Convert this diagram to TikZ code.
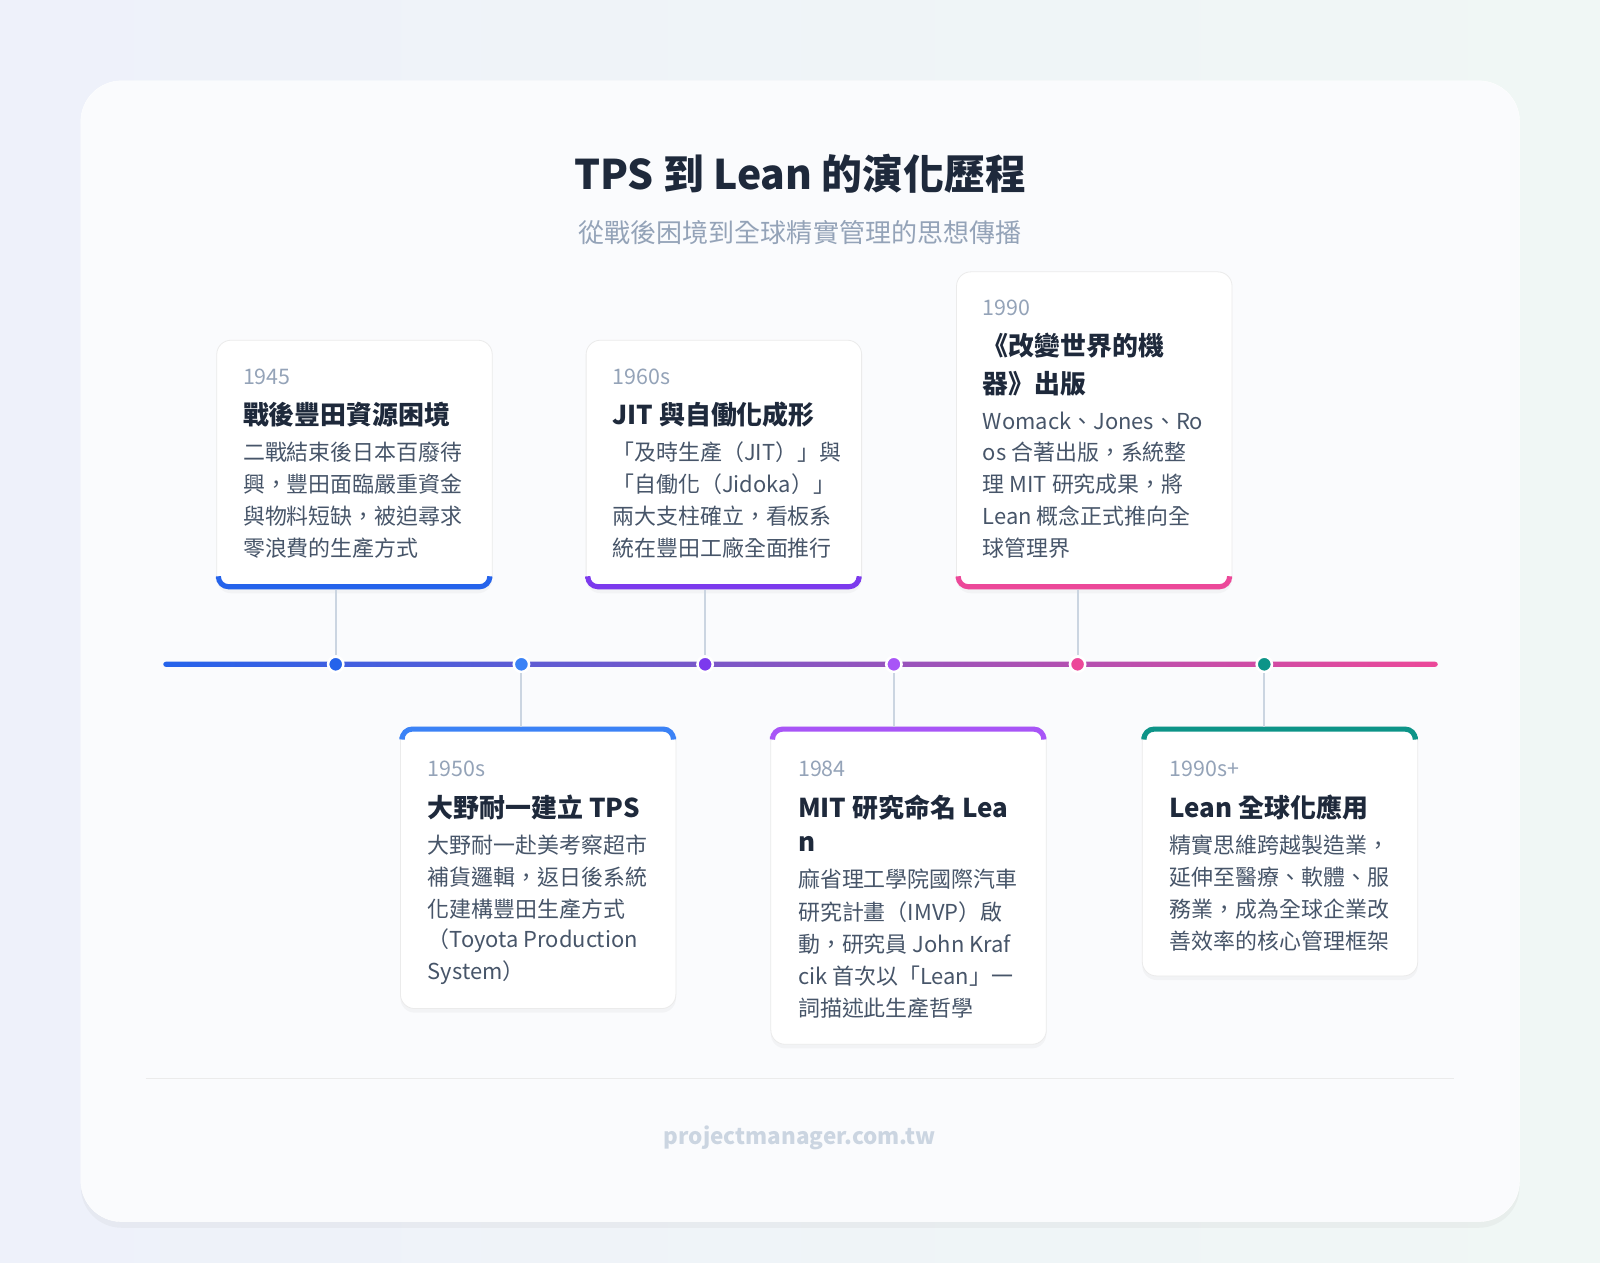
\documentclass[tikz,border=0pt]{standalone}
\usepackage{fontspec}
\setmainfont{Noto Sans CJK TC}
\usetikzlibrary{shadows}
\definecolor{bgA}{HTML}{EEF1FA}
\definecolor{bgB}{HTML}{F0F7F5}
\definecolor{cardbg}{HTML}{FAFBFD}
\definecolor{ttl}{HTML}{1E293B}
\definecolor{sub}{HTML}{94A3B8}
\definecolor{body}{HTML}{475569}
\definecolor{conn}{HTML}{CBD5E1}
\definecolor{cA}{HTML}{2563EB}
\definecolor{cB}{HTML}{3B82F6}
\definecolor{cC}{HTML}{7C3AED}
\definecolor{cD}{HTML}{A855F7}
\definecolor{cE}{HTML}{EC4899}
\definecolor{cF}{HTML}{0D9488}
\tikzset{
  ev/.style={draw=black!8,line width=0.8pt,fill=white,rounded corners=14pt,anchor=north west,inner sep=0pt,drop shadow={opacity=0.06,shadow xshift=0pt,shadow yshift=-4pt}},
  yr/.style={anchor=west,inner sep=0pt,text=sub,font=\fontsize{21}{24}\selectfont},
  hd/.style={anchor=west,inner sep=0pt,text=ttl,font=\fontsize{25.4}{28}\selectfont\bfseries},
  bd/.style={anchor=west,inner sep=0pt,text=body,font=\fontsize{21.5}{24}\selectfont},
  dot/.style={circle,fill=#1,draw=white,line width=2.5pt,minimum size=15pt,inner sep=0pt},
  cn/.style={conn,line width=2pt}
}
\newcommand{\mylines}[5]{% x, y0, step, style, list
  \foreach \t [count=\i from 0] in {#5} {\node[#4] at (#1,#2+\i*#3) {\t};}}
\begin{document}
\begin{tikzpicture}[x=1pt,y=-1pt]
\useasboundingbox (0,0) rectangle (1568,1237);
\shade[left color=bgA,right color=bgB] (0,0) rectangle (1568,1237);
\node[draw=white,fill=cardbg,rounded corners=40pt,anchor=north west,minimum width=1410pt,minimum height=1118pt,drop shadow={opacity=0.07,shadow xshift=0pt,shadow yshift=-6pt}] (main) at (79,79) {};
\node[text=ttl,font=\fontsize{40}{46}\selectfont\bfseries] (title) at (784,170) {TPS 到 Lean 的演化歷程};
\node[text=sub,font=\fontsize{25.5}{30}\selectfont] (subt) at (784,228) {從戰後困境到全球精實管理的思想傳播};
% timeline
\shade[left color=cA,middle color=cC,right color=cE,rounded corners=2.5pt] (160,648.5) rectangle (1409,653.5);
\node[dot=cA] (d1) at (329,651) {};
\node[dot=cB] (d2) at (511,651) {};
\node[dot=cC] (d3) at (691,651) {};
\node[dot=cD] (d4) at (876,651) {};
\node[dot=cE] (d5) at (1056,651) {};
\node[dot=cF] (d6) at (1239,651) {};
% cards
\node[ev,minimum width=270pt,minimum height=244pt] (c1) at (212,333) {};
\node[ev,minimum width=270pt,minimum height=244pt] (c3) at (574,333) {};
\node[ev,minimum width=270pt,minimum height=311pt] (c5) at (937,266) {};
\node[ev,minimum width=270pt,minimum height=276pt] (c2) at (392,712) {};
\node[ev,minimum width=270pt,minimum height=311pt] (c4) at (755,712) {};
\node[ev,minimum width=270pt,minimum height=244pt] (c6) at (1119,712) {};
% bars
\draw[cA,line width=5pt,rounded corners=10pt] (214,567) -- (214,575) -- (480,575) -- (480,567);
\draw[cC,line width=5pt,rounded corners=10pt] (576,567) -- (576,575) -- (842,575) -- (842,567);
\draw[cE,line width=5pt,rounded corners=10pt] (939,567) -- (939,575) -- (1205,575) -- (1205,567);
\draw[cB,line width=5pt,rounded corners=10pt] (394,722) -- (394,714.5) -- (660,714.5) -- (660,722);
\draw[cD,line width=5pt,rounded corners=10pt] (757,722) -- (757,714.5) -- (1023,714.5) -- (1023,722);
\draw[cF,line width=5pt,rounded corners=10pt] (1121,722) -- (1121,714.5) -- (1387,714.5) -- (1387,722);
% connectors
\draw[cn] (c1.south -| d1) -- (d1.north);
\draw[cn] (c3.south -| d3) -- (d3.north);
\draw[cn] (c5.south -| d5) -- (d5.north);
\draw[cn] (d2.south) -- (c2.north -| d2);
\draw[cn] (d4.south) -- (c4.north -| d4);
\draw[cn] (d6.south) -- (c6.north -| d6);
% texts
\node[yr] at (238,369) {1945};
\node[hd] at (238,406) {戰後豐田資源困境};
\mylines{238}{443}{31.3}{bd}{{二戰結束後日本百廢待},{興，豐田面臨嚴重資金},{與物料短缺，被迫尋求},{零浪費的生產方式}}
\node[yr] at (600,369) {1960s};
\node[hd] at (600,406) {JIT 與自働化成形};
\mylines{600}{443}{31.3}{bd}{{「及時生產（JIT）」與},{「自働化（Jidoka）」},{兩大支柱確立，看板系},{統在豐田工廠全面推行}}
\node[yr] at (963,302) {1990};
\mylines{963}{339}{37}{hd}{{《改變世界的機},{器》出版}}
\mylines{963}{412}{31.3}{bd}{{Womack、Jones、Ro},{os 合著出版，系統整},{理 MIT 研究成果，將},{Lean 概念正式推向全},{球管理界}}
\node[yr] at (419,753) {1950s};
\node[hd] at (419,791) {大野耐一建立 TPS};
\mylines{419}{828}{31.3}{bd}{{大野耐一赴美考察超市},{補貨邏輯，返日後系統},{化建構豐田生產方式},{（Toyota Production},{System）}}
\node[yr] at (782,753) {1984};
\mylines{782}{791}{36}{hd}{{MIT 研究命名 Lea},{n}}
\mylines{782}{862}{31.5}{bd}{{麻省理工學院國際汽車},{研究計畫（IMVP）啟},{動，研究員 John Kraf},{cik 首次以「Lean」一},{詞描述此生產哲學}}
\node[yr] at (1146,753) {1990s+};
\node[hd] at (1146,791) {Lean 全球化應用};
\mylines{1146}{828}{31.3}{bd}{{精實思維跨越製造業，},{延伸至醫療、軟體、服},{務業，成為全球企業改},{善效率的核心管理框架}}
% footer
\draw[black!8,line width=1pt] (143,1057) -- (1425,1057);
\node[text=conn,font=\fontsize{22}{26}\selectfont\bfseries] (foot) at (784,1115) {projectmanager.com.tw};
\end{tikzpicture}
\end{document}
